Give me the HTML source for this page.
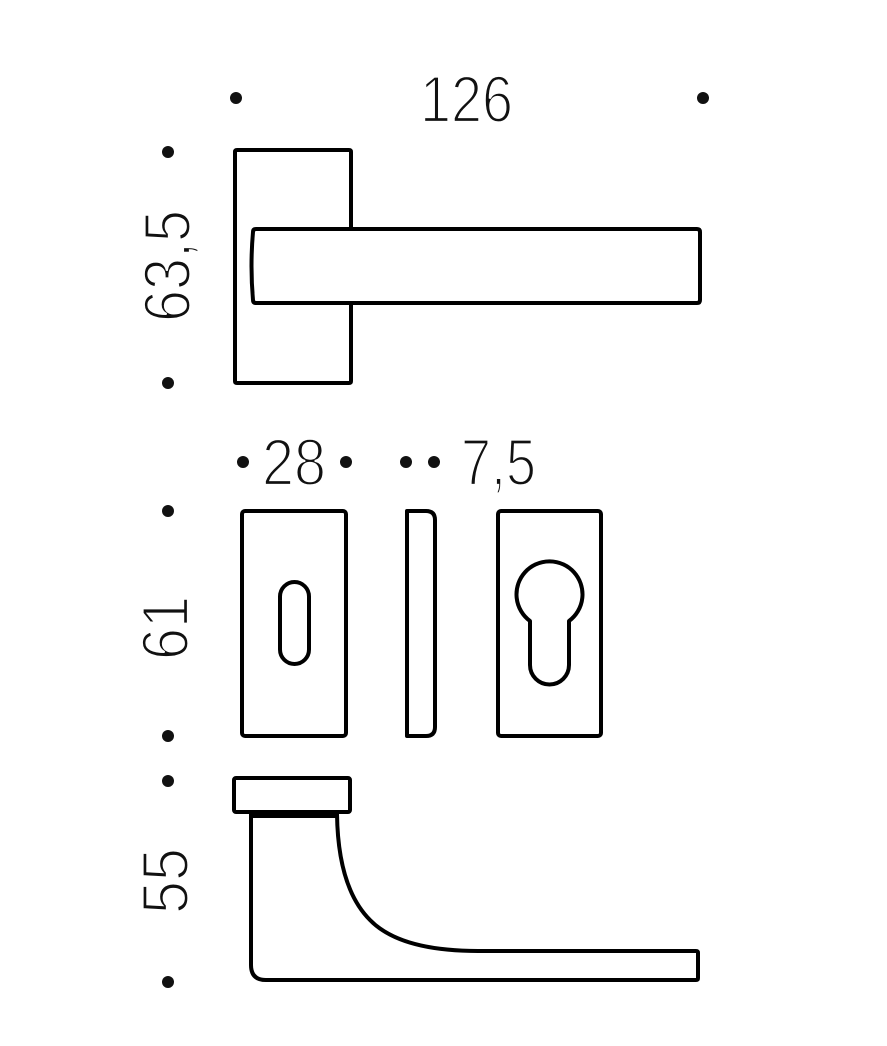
<!DOCTYPE html>
<html><head><meta charset="utf-8"><style>html,body{margin:0;padding:0;background:#fff}svg{display:block}</style></head>
<body>
<svg width="887" height="1046" viewBox="0 0 887 1046" xmlns="http://www.w3.org/2000/svg">
<g fill="#111">
<circle cx="236" cy="98" r="6"/><circle cx="703" cy="98" r="6"/>
<circle cx="168" cy="152" r="6"/><circle cx="168" cy="383" r="6"/>
<circle cx="243" cy="462" r="6"/><circle cx="346" cy="462" r="6"/>
<circle cx="406" cy="462" r="6"/><circle cx="434" cy="462" r="6"/>
<circle cx="168" cy="511" r="6"/><circle cx="168" cy="736" r="6"/>
<circle cx="168" cy="781" r="6"/><circle cx="168" cy="982" r="6"/>
</g>
<g font-family="Liberation Sans, sans-serif" font-size="66" fill="#111" stroke="#fff" stroke-width="2.2">
<text x="420" y="122" textLength="93" lengthAdjust="spacingAndGlyphs">126</text>
<text x="262" y="485" textLength="64" lengthAdjust="spacingAndGlyphs">28</text>
<text x="461" y="485" textLength="75" lengthAdjust="spacingAndGlyphs">7,5</text>
<text transform="translate(190,322) rotate(-90)" textLength="112" lengthAdjust="spacingAndGlyphs">63,5</text>
<text transform="translate(188,660) rotate(-90)" textLength="64" lengthAdjust="spacingAndGlyphs">61</text>
<text transform="translate(188,914) rotate(-90)" textLength="66" lengthAdjust="spacingAndGlyphs">55</text>
</g>
<g fill="none" stroke="#000" stroke-width="4" stroke-linejoin="round">
<path d="M351 229 V152 Q351 150 349 150 H237 Q235 150 235 152 V381 Q235 383 237 383 H349 Q351 383 351 381 V303"/>
<path d="M256 229 H697 Q700 229 700 232 V300 Q700 303 697 303 H256 Q253 303 253 300 Q250 266 253 232 Q253 229 256 229 Z"/>
<rect x="242" y="511" width="104" height="225" rx="3"/>
<rect x="280" y="582" width="29" height="82" rx="14.5"/>
<path d="M407 511 H426 Q435 511 435 520 V727 Q435 736 426 736 H407 Z"/>
<rect x="498" y="511" width="103" height="225" rx="3"/>
<path d="M530 621 A33 33 0 1 1 569 621 V665 A19.5 19.5 0 0 1 530 665 Z"/>
<rect x="234" y="778" width="116" height="34" rx="2"/>
<path d="M251 814 V965 Q251 980 266 980 H696 Q698 980 698 978 V953 Q698 951 696 951 H478 Q400 951 370 920 Q338 888 337 814"/>
<path d="M251 815 H337" stroke-width="6"/>
</g>
</svg>
</body></html>
